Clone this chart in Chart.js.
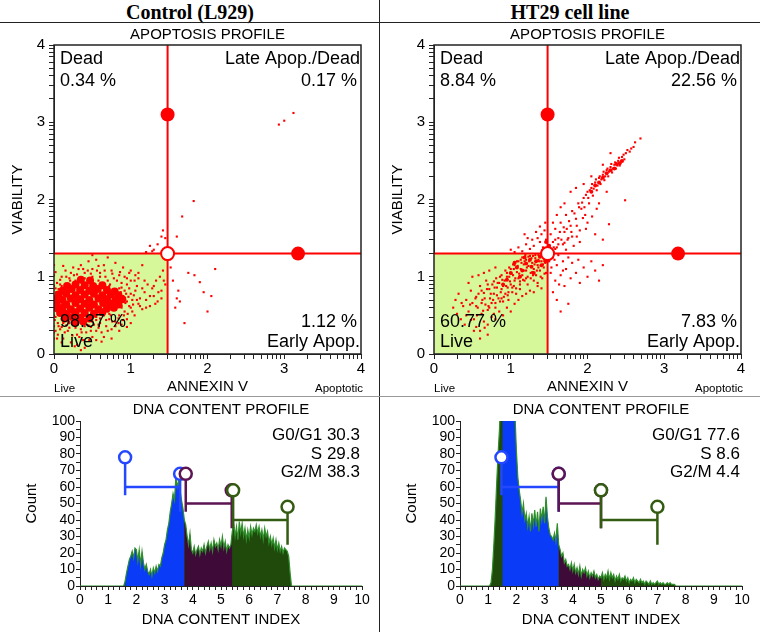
<!DOCTYPE html>
<html>
<head>
<meta charset="utf-8">
<script src="https://cdn.jsdelivr.net/npm/chart.js@4.4.0/dist/chart.umd.min.js"></script>
<style>
body { margin: 0; background: #fff; }
#page { position: relative; width: 760px; height: 632px; overflow: hidden; }
.head { position: absolute; top: 0; width: 380px; height: 23px; text-align: center;
        font: bold 20px "Liberation Serif", "Times New Roman", serif; line-height: 24px; color: #000; }
.rule { position: absolute; background: #222; }
.box { position: absolute; }
</style>
</head>
<body>
<div id="page">
  <div class="head" style="left:0">Control (L929)</div>
  <div class="head" style="left:380px">HT29 cell line</div>
  <div class="rule" style="left:0;top:22px;width:760px;height:1px"></div>
  <div class="rule" style="left:379px;top:0;width:1px;height:632px"></div>
  <div class="rule" style="left:0;top:396px;width:760px;height:1px;background:#999"></div>
  <div class="box" style="left:0;top:24px"><canvas id="apoControl" width="380" height="372"></canvas></div>
  <div class="box" style="left:380px;top:24px"><canvas id="apoHT29" width="380" height="372"></canvas></div>
  <div class="box" style="left:0;top:398px"><canvas id="dnaControl" width="380" height="234"></canvas></div>
  <div class="box" style="left:380px;top:398px"><canvas id="dnaHT29" width="380" height="234"></canvas></div>
</div>
<script>
// ---------- apoptosis profile data ----------
const quadrantNames = ['Dead', 'Late Apop./Dead', 'Live', 'Early Apop.'];
const controlQuadPct = ['0.34 %', '0.17 %', '98.37 %', '1.12 %'];
const ht29QuadPct = ['8.84 %', '22.56 %', '60.77 %', '7.83 %'];
const quadGate = [1.48, 1.3];          // annexin, viability split
const gateHandles = [3.1, 3.18];       // handle on vertical line (y), handle on horizontal line (x)

// events as flat x,y pairs (log decades)
const controlCore = [
  0.35,0.96, 0.47,0.95,
  0.17,0.88, 0.28,0.90, 0.40,0.89, 0.51,0.88, 0.63,0.89,
  0.11,0.82, 0.23,0.84, 0.34,0.83, 0.46,0.82, 0.57,0.84, 0.69,0.83, 0.79,0.81,
  0.06,0.77, 0.16,0.78, 0.28,0.76, 0.40,0.77, 0.52,0.78, 0.63,0.76, 0.74,0.77, 0.84,0.76,
  0.02,0.71, 0.11,0.70, 0.22,0.72, 0.34,0.71, 0.46,0.70, 0.58,0.72, 0.69,0.71, 0.80,0.70, 0.89,0.71,
  0.03,0.65, 0.16,0.64, 0.28,0.66, 0.40,0.65, 0.52,0.64, 0.64,0.66, 0.74,0.65, 0.84,0.64,
  0.04,0.59, 0.11,0.60, 0.22,0.58, 0.34,0.59, 0.46,0.60, 0.58,0.58, 0.69,0.59, 0.78,0.60,
  0.08,0.53, 0.16,0.52, 0.28,0.54, 0.40,0.53, 0.52,0.52, 0.63,0.54,
  0.14,0.46, 0.24,0.48, 0.34,0.47, 0.46,0.46,
  0.28,0.41, 0.38,0.42
];
const controlEvents = [
  0.00,0.28, 0.00,0.36, 0.00,0.50, 0.00,0.62, 0.00,0.75, 0.00,0.88, 0.00,1.02, 0.01,0.44,
  0.05,0.25, 0.10,0.35, 0.12,0.20, 0.18,0.30, 0.22,0.15, 0.25,0.38, 0.30,0.25, 0.35,0.32,
  0.38,0.18, 0.42,0.28, 0.48,0.35, 0.50,0.22, 0.55,0.30, 0.60,0.40, 0.62,0.28, 0.68,0.36,
  0.72,0.45, 0.75,0.32, 0.80,0.42, 0.85,0.50, 0.88,0.38, 0.92,0.55, 0.95,0.45, 1.00,0.60,
  1.05,0.50, 1.10,0.65, 1.12,0.72, 1.15,0.58, 1.18,0.80, 1.20,0.70, 1.22,0.90, 1.25,0.62,
  1.28,0.85, 1.30,0.75, 1.33,0.95, 1.35,0.68, 1.38,1.00, 1.40,0.82, 1.42,1.08, 1.45,0.90,
  0.10,1.00, 0.15,1.08, 0.20,0.98, 0.25,1.12, 0.30,1.03, 0.35,1.15, 0.40,1.05, 0.45,1.20,
  0.50,1.10, 0.55,1.22, 0.60,1.05, 0.65,1.15, 0.70,1.25, 0.75,1.08, 0.80,1.18, 0.85,1.02,
  0.90,1.12, 0.95,0.98, 1.00,1.08, 1.05,0.95, 1.10,1.05, 1.15,1.15, 0.78,0.98, 0.88,0.92,
  0.98,0.85, 1.08,0.88, 0.90,0.75, 0.95,0.68, 0.92,0.82, 1.00,0.78, 1.02,0.70, 0.98,0.62,
  0.88,0.60, 0.85,0.85, 0.82,0.95, 0.70,0.95, 0.60,1.00, 0.50,1.00, 0.40,0.98, 0.28,0.95,
  0.20,0.90, 0.10,0.88, 0.04,0.92, 0.05,0.40, 0.10,0.45, 0.20,0.42, 0.25,0.48, 0.35,0.42,
  0.40,0.45, 0.50,0.42, 0.55,0.48, 0.65,0.50, 0.70,0.55, 0.78,0.58, 0.82,0.65, 0.93,0.66,
  0.87,0.80, 0.97,0.74, 1.06,0.82, 1.03,0.64, 0.91,0.50, 0.84,0.46, 0.74,0.50, 0.58,0.38,
  0.45,0.37, 0.28,0.34, 0.16,0.37, 0.08,0.32, 0.33,0.22, 0.46,0.18, 0.27,0.10, 0.62,0.16,
  0.72,0.88, 0.67,1.00, 0.56,1.08, 0.44,1.08, 0.32,1.10, 0.22,1.05, 0.12,1.14, 0.50,1.28,
  0.95,0.90, 1.00,0.95, 1.04,0.76, 1.08,0.70, 1.12,0.62, 1.02,0.55, 0.96,0.52, 0.90,0.44,
  0.84,0.40, 0.76,0.42, 0.68,0.44, 0.60,0.46, 0.52,0.38, 0.40,0.36, 0.30,0.38, 0.20,0.34,
  0.12,0.40, 0.06,0.36, 0.02,0.30, 0.14,0.28, 0.24,0.24, 0.36,0.28, 0.48,0.30, 0.58,0.34,
  0.70,0.30, 0.80,0.36, 1.15,0.85, 1.18,0.95, 1.20,0.60, 1.25,0.75, 1.30,0.88, 1.32,0.65,
  1.36,0.80, 1.40,0.72, 1.43,0.95, 1.10,0.98, 1.06,1.02, 0.98,1.05, 0.92,1.00, 0.86,1.06,
  0.76,1.04, 0.66,1.08, 0.58,1.14, 0.48,1.04, 0.38,1.10, 0.26,1.02, 0.16,1.00, 0.08,0.96,
  0.02,1.06, 0.04,0.20, 0.10,0.15, 0.30,0.12, 0.40,0.08, 0.55,0.18, 0.65,0.22, 0.75,0.20,
  0.85,0.30, 0.95,0.35, 1.00,0.40, 0.35,0.05, 0.15,0.55, 0.00,0.20, 0.00,1.15, 0.02,0.85,
  0.06,0.84, 0.03,0.80, 0.08,0.90, 0.21,0.95, 0.58,0.95, 0.73,0.90, 0.88,0.86, 0.92,0.72,
  0.88,0.62, 0.80,0.57, 0.72,0.52, 0.02,0.48, 0.06,0.52, 0.55,0.44, 0.20,0.40, 0.94,0.78,
  1.55,0.95, 1.60,0.72, 1.64,0.68, 1.70,0.40, 1.75,1.05, 1.83,1.02, 1.90,0.93, 1.95,0.80,
  2.00,0.55, 2.05,0.75, 2.10,1.10, 1.58,0.60, 1.62,0.82, 1.52,1.12,
  1.30,1.35, 1.35,1.42, 1.40,1.52, 1.42,1.60, 1.45,1.50, 1.25,1.40, 1.20,1.32, 1.28,1.33,
  1.60,1.52, 1.67,1.78, 1.82,1.98, 2.93,2.97, 3.00,3.02, 3.12,3.12
];

const ht29Core = [
  1.00,1.05, 1.08,1.12, 1.15,1.08, 1.20,1.17, 1.27,1.13, 1.33,1.20, 1.40,1.15, 1.38,1.26,
  1.25,1.22, 1.12,1.00, 0.95,0.96, 1.30,1.05, 1.45,1.20, 1.18,1.25, 1.05,1.18, 0.90,0.90,
  1.42,1.34, 1.50,1.40, 1.46,1.45,
  2.10,2.18, 2.20,2.28, 2.30,2.38, 2.38,2.46, 2.45,2.50, 2.25,2.34, 2.15,2.22, 2.35,2.40,
  2.42,2.47, 2.05,2.10
];
const ht29Events = [
  0.32,0.78, 0.38,0.62, 0.42,0.70, 0.45,0.55, 0.48,0.82, 0.50,0.66, 0.52,0.45, 0.55,0.74,
  0.57,0.60, 0.60,0.88, 0.62,0.52, 0.63,0.70, 0.65,0.79, 0.67,0.64, 0.68,0.95, 0.70,0.57,
  0.72,0.84, 0.73,0.72, 0.75,0.66, 0.76,0.90, 0.78,0.78, 0.80,0.60, 0.81,0.98, 0.82,0.86,
  0.84,0.72, 0.85,0.92, 0.87,0.80, 0.88,1.02, 0.90,0.68, 0.90,0.88, 0.92,0.95, 0.93,0.78,
  0.95,1.05, 0.96,0.86, 0.97,0.70, 0.98,1.00, 1.00,0.90, 1.00,1.10, 1.02,0.80, 1.03,1.02,
  1.05,0.95, 1.05,1.15, 1.07,0.85, 1.08,1.06, 1.10,1.20, 1.10,0.98, 1.12,0.90, 1.13,1.10,
  1.15,1.02, 1.15,1.25, 1.17,1.16, 1.18,0.95, 1.20,1.08, 1.20,1.22, 1.22,1.00, 1.23,1.14,
  1.25,1.27, 1.26,1.05, 1.28,1.18, 1.30,1.10, 1.30,0.95, 1.32,1.24, 1.33,1.02, 1.35,1.15,
  1.36,1.28, 1.38,1.08, 1.40,1.20, 1.41,0.98, 1.43,1.12, 1.45,1.26, 1.46,1.05,
  0.35,0.45, 0.40,0.38, 0.55,0.35, 0.60,0.30, 0.65,0.42, 0.70,0.38, 0.75,0.48, 0.80,0.45,
  0.85,0.55, 0.90,0.50, 0.95,0.60, 1.00,0.55, 1.05,0.65, 1.10,0.70, 1.15,0.75, 1.20,0.78,
  1.25,0.82, 1.30,0.80, 1.35,0.88, 1.40,0.85, 0.25,0.60, 0.30,0.52, 0.45,0.92, 0.50,1.00,
  0.58,1.02, 0.65,1.05, 0.72,1.08, 0.80,1.12, 0.60,0.20, 0.70,0.25,
  0.55,0.62, 0.58,0.78, 0.62,0.66, 0.66,0.72, 0.69,0.84, 0.71,0.62, 0.74,0.78, 0.77,0.70,
  0.79,0.86, 0.82,0.76, 0.83,0.92, 0.86,0.68, 0.88,0.84, 0.89,0.96, 0.91,0.74, 0.94,0.88,
  0.95,1.00, 0.97,0.80, 0.99,0.94, 1.01,1.04, 1.02,0.86, 1.04,1.10, 1.06,0.98, 1.07,0.78,
  1.09,1.14, 1.11,1.04, 1.12,0.84, 1.14,1.18, 1.16,0.96, 1.17,1.08, 1.19,1.28, 1.21,1.12,
  1.22,0.90, 1.24,1.20, 1.26,0.98, 1.27,1.24, 1.29,1.02, 1.31,1.16, 1.32,1.28, 1.34,1.08,
  1.35,0.92, 1.37,1.20, 1.39,1.00, 1.40,1.28, 1.42,1.16, 1.44,1.04, 1.45,1.18, 1.47,1.28,
  1.36,1.22, 1.29,1.27, 1.23,1.26, 1.18,1.20, 1.13,1.22, 1.08,1.20, 1.03,1.16, 0.98,1.12,
  0.93,1.08, 0.86,1.00, 0.78,0.94, 0.70,0.90, 0.62,0.82, 0.54,0.72, 0.47,0.64, 0.42,0.50,
  0.48,0.44, 0.56,0.50, 0.64,0.56, 0.72,0.60, 0.80,0.66, 0.88,0.72, 0.96,0.76, 1.04,0.88,
  1.12,0.94, 1.20,0.98, 1.28,1.06, 1.36,1.12, 1.44,1.22, 0.52,0.30, 0.66,0.34, 0.78,0.52,
  0.36,0.66, 0.28,0.70,
  1.00,1.35, 1.10,1.38, 1.15,1.33, 1.20,1.42, 1.25,1.36, 1.28,1.48, 1.30,1.40, 1.35,1.50,
  1.38,1.45, 1.40,1.55, 1.42,1.38, 1.44,1.60, 1.46,1.48, 1.33,1.58, 1.22,1.50, 1.05,1.32,
  1.18,1.55, 1.38,1.65, 1.45,1.70,
  1.50,1.40, 1.52,1.55, 1.55,1.45, 1.58,1.62, 1.60,1.38, 1.62,1.50, 1.65,1.70, 1.68,1.42,
  1.70,1.58, 1.72,1.80, 1.75,1.50, 1.78,1.66, 1.80,1.85, 1.82,1.40, 1.85,1.75, 1.88,1.95,
  1.90,1.60, 1.92,1.88, 1.95,2.02, 1.97,1.80, 2.00,2.10, 2.02,1.95, 2.05,2.15, 2.07,2.05,
  2.10,2.22, 2.12,2.12, 2.15,2.28, 2.17,2.20, 2.20,2.32, 2.22,2.25, 2.25,2.38, 2.27,2.30,
  2.30,2.42, 2.32,2.35, 2.35,2.45, 2.37,2.40, 2.40,2.50, 2.42,2.44, 2.45,2.55, 2.48,2.52,
  2.50,2.60, 2.55,2.62, 2.60,2.68, 2.69,2.79,
  1.52,1.32, 1.56,1.38, 1.58,1.48, 1.62,1.42, 1.64,1.58, 1.66,1.48, 1.69,1.64, 1.73,1.62,
  1.76,1.72, 1.79,1.58, 1.83,1.82, 1.86,1.66, 1.89,1.90, 1.93,1.96, 1.96,1.90, 1.98,2.06,
  2.01,2.02, 2.03,2.12, 2.06,2.20, 2.08,2.14, 2.11,2.26, 2.13,2.18, 2.16,2.30, 2.18,2.26,
  2.21,2.36, 2.23,2.30, 2.26,2.40, 2.28,2.36, 2.31,2.46, 2.33,2.40, 2.36,2.48, 2.39,2.44,
  2.41,2.54, 2.44,2.50, 2.47,2.58, 2.52,2.64, 2.57,2.66, 2.62,2.74, 1.74,1.48, 1.86,1.52,
  1.98,1.62, 2.06,1.78, 1.94,1.76, 2.12,1.88, 1.70,1.44, 1.58,1.36,
  1.70,1.95, 1.78,2.10, 1.90,1.45, 2.00,1.70, 2.10,1.55, 2.20,1.48, 1.65,1.90, 2.49,1.99,
  2.30,2.60, 2.20,2.45, 2.05,2.30, 1.95,2.20, 1.85,2.15, 1.55,1.70, 1.60,1.80, 2.28,1.68,
  1.72,1.35, 1.80,1.52, 2.15,1.95, 2.25,2.10,
  1.50,1.20, 1.52,1.05, 1.55,1.25, 1.58,0.95, 1.60,1.15, 1.62,1.28, 1.65,1.02, 1.68,1.20,
  1.70,0.88, 1.72,1.10, 1.75,1.25, 1.78,0.98, 1.80,1.18, 1.85,1.05, 1.88,1.22, 1.90,0.92,
  1.95,1.12, 2.00,1.00, 2.05,1.20, 2.10,1.08, 2.15,0.95, 2.20,1.15, 1.55,0.80, 1.60,0.70,
  1.75,0.65, 1.65,0.55, 1.53,1.12, 1.57,1.22, 1.63,0.90, 1.68,1.08
];

// ---------- DNA content data ----------
const dnaStep = 0.05;
const controlDnaStart = 1.5;
const controlCounts = [
  0,0,3,8,12,16,18,21,17,23, 22,15,22,13,21,14,10,13,9,7,
  10,6,11,8,12,9,13,12,17,20, 25,28,34,38,45,50,56,52,66,60,
  64,58,52,47,40,37,30,25,32,22, 20,24,19,22,24,19,23,21,25,20,
  24,27,22,26,21,28,24,26,22,28, 24,30,23,27,21,25,23,25,33,38,
  30,36,28,39,32,38,30,35,28,34, 29,36,31,35,33,37,32,36,30,34,
  28,35,30,33,26,30,25,29,23,28, 22,26,21,24,20,23,22,21,18,8, 0
];
const ht29DnaStart = 1.05;
const ht29Counts = [
  0,2,10,25,42,62,80,95,120,150, 175,180,172,160,150,138,125,112,104,82,
  66,58,52,44,50,40,44,36,42,33, 44,37,46,36,45,33,47,40,48,38,
  54,42,35,31,30,28,32,27,38,25, 22,18,20,14,16,12,13,10,14,9,
  13,8,11,7,12,6,10,8,11,6, 9,5,8,6,9,5,7,4,6,5,
  8,4,7,5,9,4,8,5,7,3, 6,4,7,3,5,4,6,3,5,2,
  4,3,5,2,4,3,2,4,2,3, 1,3,2,1,3,1,2,1,2,3,
  1,2,1,2,1,1,2,1,2,1, 1,1,0
];
const phaseNames = ['G0/G1', 'S', 'G2/M'];
const controlPhasePct = ['30.3', '29.8', '38.3'];
const ht29PhasePct = ['77.6', '8.6', '4.4'];
const controlFillEdges = [1.6, 3.7, 5.4];
const ht29FillEdges = [1.5, 3.5, 5.0];
const controlGateLo = [1.6, 3.75, 5.43];
const controlGateHi = [3.55, 5.38, 7.36];
const ht29GateLo = [1.47, 3.5, 5.0];
const ht29GateHi = [3.5, 5.0, 7.0];
const gateLevel = [60, 50, 40];

// ---------- helpers ----------
Chart.defaults.font.family = '"Liberation Sans", Arial, sans-serif';
Chart.defaults.color = '#000';

const RED = '#ff0000';
const GREEN_FILL = '#1f4a0c';
const BLUE_FILL = '#0a3cf8';
const PURPLE_FILL = '#3e0b38';
const gateColors = ['#2448ff', '#5c1552', '#335c12'];

function toPts(flat) {
  const pts = [];
  for (let i = 0; i < flat.length; i += 2) pts.push({x: flat[i], y: flat[i + 1]});
  return pts;
}

function logTicks(top) {
  const t = [];
  for (let d = 0; d < top; d++) {
    t.push(d);
    for (let k = 2; k < 10; k++) t.push(d + Math.log10(k));
  }
  t.push(top);
  return t.map(v => ({value: v}));
}

function wholeLabel(v) {
  return Math.abs(v - Math.round(v)) < 1e-6 ? String(Math.round(v)) : '';
}

const frame = {
  id: 'frame',
  afterDatasetsDraw(chart) {
    const {ctx, chartArea: a} = chart;
    ctx.save();
    ctx.strokeStyle = '#222';
    ctx.lineWidth = 1.5;
    ctx.strokeRect(a.left, a.top, a.right - a.left, a.bottom - a.top);
    ctx.restore();
  }
};

const quadrantText = {
  id: 'quadrantText',
  afterDraw(chart, args, opts) {
    const {ctx, chartArea: a} = chart;
    ctx.save();
    ctx.fillStyle = '#000';
    ctx.font = '18px "Liberation Sans", Arial, sans-serif';
    ctx.textAlign = 'left';
    ctx.fillText(quadrantNames[0], a.left + 6, a.top + 19);
    ctx.fillText(opts.pct[0], a.left + 6, a.top + 41);
    ctx.fillText(opts.pct[2], a.left + 6, a.bottom - 27);
    ctx.fillText(quadrantNames[2], a.left + 6, a.bottom - 7);
    ctx.textAlign = 'right';
    ctx.fillText(quadrantNames[1], a.right - 1, a.top + 19);
    ctx.fillText(opts.pct[1], a.right - 4, a.top + 41);
    ctx.fillText(opts.pct[3], a.right - 4, a.bottom - 27);
    ctx.fillText(quadrantNames[3], a.right - 1, a.bottom - 7);
    // axis end labels
    ctx.font = '11.5px "Liberation Sans", Arial, sans-serif';
    ctx.textAlign = 'left';
    ctx.fillText('Live', a.left, a.bottom + 38);
    ctx.textAlign = 'right';
    ctx.fillText('Apoptotic', a.right + 2, a.bottom + 38);
    ctx.restore();
  }
};

const phaseText = {
  id: 'phaseText',
  afterDraw(chart, args, opts) {
    const {ctx, chartArea: a} = chart;
    ctx.save();
    ctx.fillStyle = '#000';
    ctx.font = '17px "Liberation Sans", Arial, sans-serif';
    ctx.textAlign = 'right';
    phaseNames.forEach((name, i) => {
      ctx.fillText(name + ' ' + opts.pct[i], a.right - 2, a.top + 19 + i * 18.5);
    });
    ctx.restore();
  }
};

function apoptosisChart(id, events, core, coreRadius, pct) {
  const [qx, qy] = quadGate;
  new Chart(document.getElementById(id), {
    type: 'line',
    data: {
      datasets: [
        { data: [{x: 0, y: qy}, {x: qx, y: qy}], fill: 'origin', backgroundColor: '#d7f79b',
          borderColor: 'transparent', borderWidth: 0, pointRadius: 0, order: 9 },
        { data: toPts(core), showLine: false, pointStyle: 'circle', pointRadius: coreRadius,
          pointBackgroundColor: RED, pointBorderColor: 'transparent', pointBorderWidth: 0, order: 8 },
        { data: toPts(events), showLine: false, pointStyle: 'rect', pointRadius: 1.5,
          pointBackgroundColor: RED, pointBorderColor: 'transparent', pointBorderWidth: 0, order: 7 },
        { data: [{x: qx, y: 0}, {x: qx, y: 4}], borderColor: RED, borderWidth: 2, pointRadius: 0, order: 3 },
        { data: [{x: 0, y: qy}, {x: 4, y: qy}], borderColor: RED, borderWidth: 2, pointRadius: 0, order: 3 },
        { data: [{x: qx, y: gateHandles[0]}, {x: gateHandles[1], y: qy}], showLine: false,
          pointRadius: 7, pointBackgroundColor: RED, pointBorderColor: RED, pointBorderWidth: 0, order: 1 },
        { data: [{x: qx, y: qy}], showLine: false, pointRadius: 6.5, pointBackgroundColor: '#fff',
          pointBorderColor: RED, pointBorderWidth: 2, order: 1 }
      ]
    },
    options: {
      responsive: false,
      animation: false,
      devicePixelRatio: 1,
      layout: { padding: { left: 0, right: 19, top: 0, bottom: 0 } },
      plugins: {
        legend: { display: false },
        tooltip: { enabled: false },
        title: { display: true, text: 'APOPTOSIS PROFILE', fullSize: false, color: '#000',
                 font: { size: 15, weight: 'normal' }, padding: { top: 2, bottom: 1 } },
        quadrantText: { pct: pct }
      },
      scales: {
        x: {
          type: 'linear', min: 0, max: 4,
          afterBuildTicks: s => { s.ticks = logTicks(4); },
          afterFit: s => { s.height = 42; },
          ticks: { callback: wholeLabel, autoSkip: false, maxRotation: 0, font: { size: 15 }, padding: 1 },
          grid: { drawOnChartArea: false, tickLength: 5, color: '#222' },
          border: { color: '#222' },
          title: { display: true, text: 'ANNEXIN V', font: { size: 15 }, padding: { top: 0, bottom: 0 } }
        },
        y: {
          type: 'linear', min: 0, max: 4,
          afterBuildTicks: s => { s.ticks = logTicks(4); },
          afterFit: s => { s.width = 54; },
          ticks: { callback: wholeLabel, autoSkip: false, font: { size: 15 }, padding: 4 },
          grid: { drawOnChartArea: false, tickLength: 5, color: '#222' },
          border: { color: '#222' },
          title: { display: true, text: 'VIABILITY', font: { size: 15 }, padding: { top: 9, bottom: 0 } }
        }
      }
    },
    plugins: [frame, quadrantText]
  });
}

function dnaChart(id, start, counts, fillEdges, gateLo, gateHi, pct) {
  const bins = counts.map((c, i) => ({x: Math.round((start + i * dnaStep) * 100) / 100, y: c}));
  const outline = [{x: 0, y: 0}, ...bins, {x: 10, y: 0}];
  const inRange = (lo, hi) => bins.filter(p => p.x >= lo - 1e-9 && p.x <= hi + 1e-9);

  const datasets = [
    { data: outline, fill: 'origin', backgroundColor: GREEN_FILL, borderColor: 'transparent',
      borderWidth: 0, pointRadius: 0, order: 9 },
    { data: inRange(fillEdges[0], fillEdges[1]), fill: 'origin', backgroundColor: BLUE_FILL,
      borderColor: 'transparent', borderWidth: 0, pointRadius: 0, order: 8 },
    { data: inRange(fillEdges[1], fillEdges[2]), fill: 'origin', backgroundColor: PURPLE_FILL,
      borderColor: 'transparent', borderWidth: 0, pointRadius: 0, order: 8 },
    { data: outline, fill: false, borderColor: '#2f8f2a', borderWidth: 1.2, pointRadius: 0, order: 6 }
  ];
  gateLevel.forEach((lv, i) => {
    const lo = gateLo[i], hi = gateHi[i];
    datasets.push({
      data: [{x: lo, y: lv + 18}, {x: lo, y: lv - 5}, {x: lo, y: lv}, {x: hi, y: lv},
             {x: hi, y: lv + 8}, {x: hi, y: lv - 15}],
      fill: false, borderColor: gateColors[i], borderWidth: 2.5,
      pointRadius: [6, 0, 0, 0, 6, 0], pointBackgroundColor: '#fff',
      pointBorderColor: gateColors[i], pointBorderWidth: 2.5, order: 3 - i
    });
  });

  new Chart(document.getElementById(id), {
    type: 'line',
    data: { datasets },
    options: {
      responsive: false,
      animation: false,
      devicePixelRatio: 1,
      layout: { padding: { left: 0, right: 18, top: 0, bottom: 0 } },
      plugins: {
        legend: { display: false },
        tooltip: { enabled: false },
        title: { display: true, text: 'DNA CONTENT PROFILE', fullSize: false, color: '#000',
                 font: { size: 15, weight: 'normal' }, padding: { top: 3, bottom: 2 } },
        phaseText: { pct: pct }
      },
      scales: {
        x: {
          type: 'linear', min: 0, max: 10,
          afterFit: s => { s.height = 46; },
          ticks: { stepSize: 0.2, callback: wholeLabel, autoSkip: false, maxRotation: 0,
                   font: { size: 14 }, padding: 2 },
          grid: { drawOnChartArea: false, tickLength: 4, color: '#222' },
          border: { color: '#222' },
          title: { display: true, text: 'DNA CONTENT INDEX', font: { size: 15 }, padding: { top: 0, bottom: 3 } }
        },
        y: {
          type: 'linear', min: 0, max: 100,
          afterFit: s => { s.width = 80; },
          ticks: { stepSize: 5, callback: v => (v % 10 === 0 ? String(v) : ''), autoSkip: false,
                   font: { size: 14 }, padding: 1 },
          grid: { drawOnChartArea: false, tickLength: 4, color: '#222' },
          border: { color: '#222' },
          title: { display: true, text: 'Count', font: { size: 15 }, padding: { top: 23, bottom: 0 } }
        }
      }
    },
    plugins: [phaseText]
  });
}

apoptosisChart('apoControl', controlEvents, controlCore, 4, controlQuadPct);
apoptosisChart('apoHT29', ht29Events, ht29Core, 2, ht29QuadPct);
dnaChart('dnaControl', controlDnaStart, controlCounts, controlFillEdges, controlGateLo, controlGateHi, controlPhasePct);
dnaChart('dnaHT29', ht29DnaStart, ht29Counts, ht29FillEdges, ht29GateLo, ht29GateHi, ht29PhasePct);
</script>
</body>
</html>
